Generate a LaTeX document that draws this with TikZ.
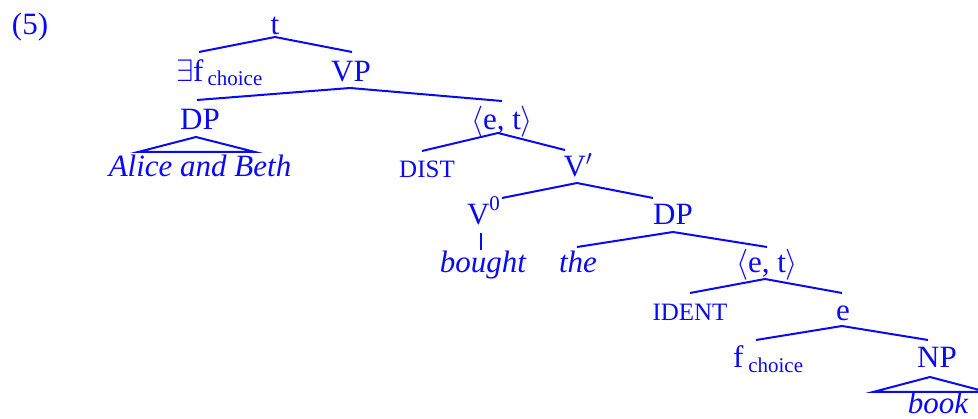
\RequirePackage{fix-cm}
\documentclass[tikz,border=0pt]{standalone}
\usepackage{fontspec}
\setmainfont{Liberation Serif}
\definecolor{treeblue}{RGB}{10,10,240}
\newcommand{\bigsz}{\fontsize{31}{31}\selectfont}
\newcommand{\midsz}{\fontsize{25}{25}\selectfont}
\newcommand{\subsz}{\fontsize{21}{21}\selectfont}
\begin{document}
\begin{tikzpicture}[x=1pt,y=-1pt,
  lab/.style={inner sep=0pt,outer sep=0pt,anchor=base,text=treeblue,font=\bigsz},
  smalllab/.style={lab,font=\midsz},
  branch/.style={draw=treeblue,line width=2pt,line join=miter}]
\useasboundingbox (0,0) rectangle (978,419);
% labels
\node[lab,anchor=base west] (ex) at (12,35) {(5)};
\node[lab] (t) at (275,35) {t};
\node[lab,anchor=base west] (ef) at (176,82) {$\exists$f\kern4pt\raisebox{-4pt}{\subsz choice}};
\node[lab] (vp) at (351,82) {VP};
\node[lab] (dpa) at (200,130) {DP};
\node[lab] (ab) at (200,177) {\itshape Alice and Beth};
\node[lab] (eta) at (502,130) {$\langle$e, t$\rangle$};
\node[smalllab] (dist) at (427,178) {DIST};
\node[lab] (vbar) at (578,177) {V$'$};
\node[lab,anchor=base west] (vzero) at (467,225) {V\raisebox{14pt}{\subsz 0}};
\node[lab] (bought) at (483,273) {\itshape bought};
\node[lab] (the) at (578,273) {\itshape the};
\node[lab] (dpb) at (673,225) {DP};
\node[lab] (etb) at (767,273) {$\langle$e, t$\rangle$};
\node[smalllab] (ident) at (690,321) {IDENT};
\node[lab] (e) at (843,321) {e};
\node[lab,anchor=base west] (fc) at (733,368) {f\kern5pt\raisebox{-5pt}{\subsz choice}};
\node[lab] (np) at (937,368) {NP};
\node[lab] (book) at (938,414) {\itshape book};
% branch points
\coordinate (t-b) at (275,37);
\coordinate (ef-t) at (199,52);
\coordinate (vp-t) at (352,52);
\coordinate (vp-b) at (350,88);
\coordinate (dpa-t) at (197,100);
\coordinate (eta-t) at (502,101);
\coordinate (dpa-b) at (196,137);
\coordinate (ab-l) at (138,152);
\coordinate (ab-r) at (255,152);
\coordinate (eta-b) at (498,133);
\coordinate (dist-t) at (422,151);
\coordinate (vbar-t) at (565,150);
\coordinate (vbar-b) at (577,183);
\coordinate (vzero-t) at (502,198);
\coordinate (dpb-t) at (653,198);
\coordinate (vzero-b) at (481,233);
\coordinate (bought-t) at (481,250);
\coordinate (dpb-b) at (673,232);
\coordinate (the-t) at (577,247);
\coordinate (etb-t) at (767,247);
\coordinate (etb-b) at (765,279);
\coordinate (ident-t) at (690,293);
\coordinate (e-t) at (842,293);
\coordinate (e-b) at (842,326);
\coordinate (fc-t) at (756,340);
\coordinate (np-t) at (928,340);
\coordinate (np-b) at (930,377);
\coordinate (book-l) at (873,392);
\coordinate (book-r) at (987,392);
% branches
\draw[branch] (ef-t) -- (t-b) -- (vp-t);
\draw[branch] (dpa-t) -- (vp-b) -- (eta-t);
\draw[branch] (ab-l) -- (dpa-b) -- (ab-r) -- cycle;
\draw[branch] (dist-t) -- (eta-b) -- (vbar-t);
\draw[branch] (vzero-t) -- (vbar-b) -- (dpb-t);
\draw[branch] (vzero-b) -- (bought-t);
\draw[branch] (the-t) -- (dpb-b) -- (etb-t);
\draw[branch] (ident-t) -- (etb-b) -- (e-t);
\draw[branch] (fc-t) -- (e-b) -- (np-t);
\draw[branch] (book-l) -- (np-b) -- (book-r) -- cycle;
\end{tikzpicture}
\end{document}
